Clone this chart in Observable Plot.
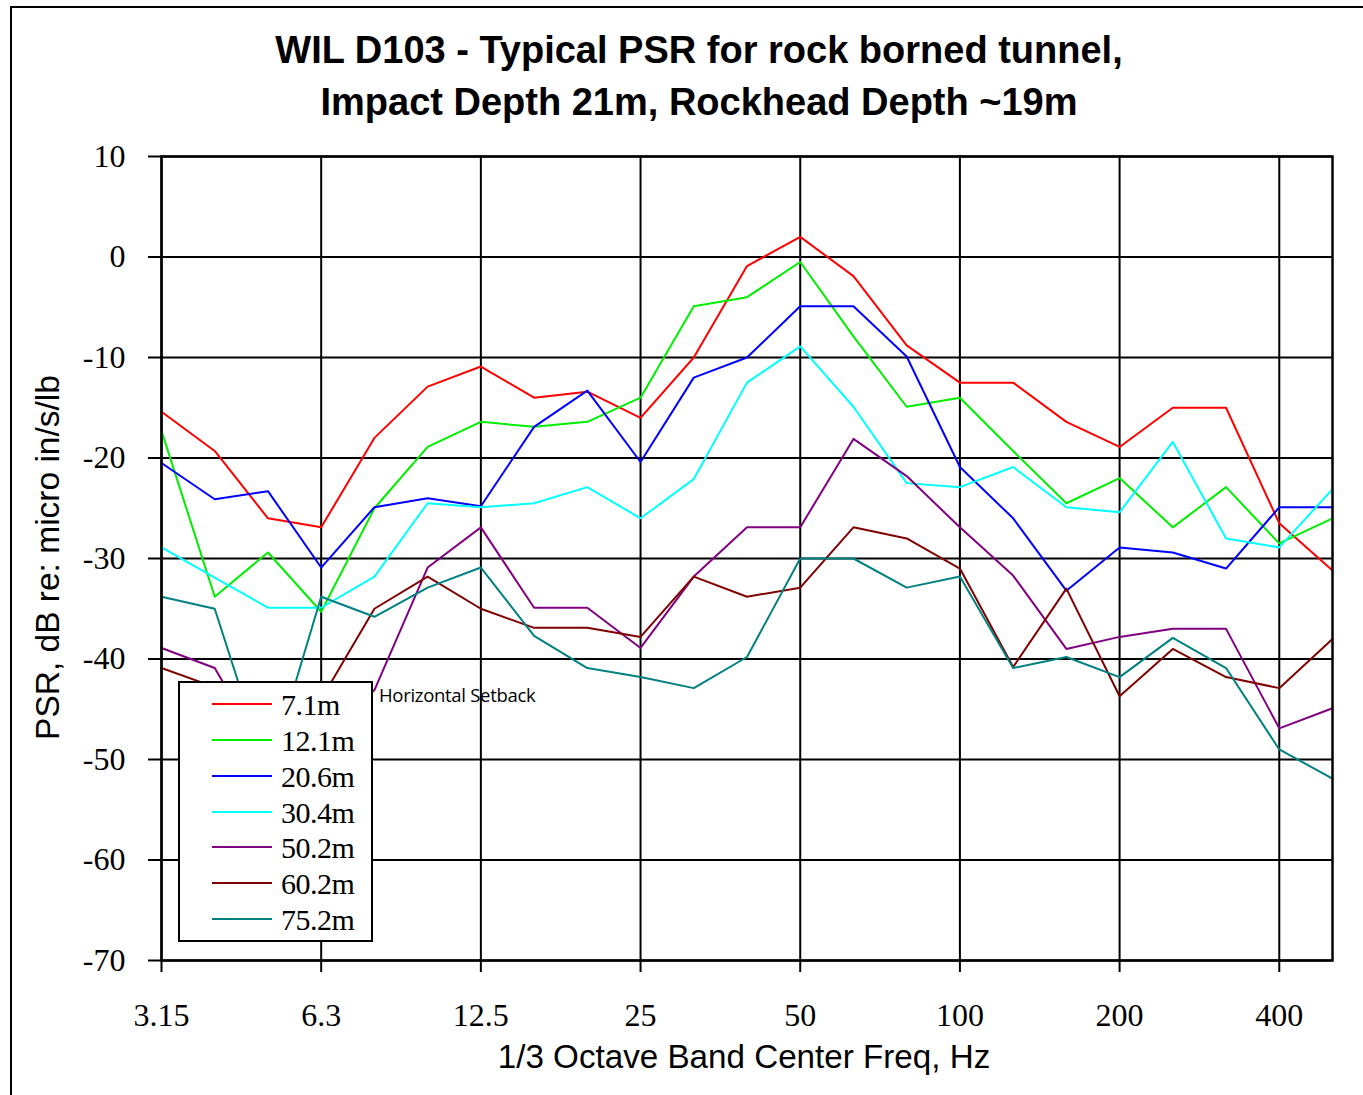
<!DOCTYPE html>
<html>
<head>
<meta charset="utf-8">
<script src="https://cdn.jsdelivr.net/npm/d3@7"></script>
<script src="https://cdn.jsdelivr.net/npm/@observablehq/plot@0.6"></script>
<style>
  body { margin: 0; background: #fff; }
  #wrap { position: relative; width: 1363px; height: 1095px; overflow: hidden; background: #fff; }
  #border { position: absolute; left: 10px; top: 6px; width: 1400px; height: 1200px; border-left: 2px solid #000; border-top: 2px solid #000; }
  #chart { position: absolute; left: 0; top: 0; }
  .title { position: absolute; left: 0; width: 1398px; text-align: center; font: bold 38px "Liberation Sans", Arial, sans-serif; line-height: 38px; white-space: nowrap; }
  #xlabel { position: absolute; left: 344px; width: 800px; top: 1040px; text-align: center; font: 33.2px "Liberation Sans", Arial, sans-serif; line-height: 33px; white-space: nowrap; }
  #ylabel { position: absolute; left: -153px; top: 541px; width: 400px; text-align: center; font: 33.5px "Liberation Sans", Arial, sans-serif; line-height: 33px; transform: rotate(-90deg); white-space: nowrap; }
  #legend { position: absolute; left: 178px; top: 681px; width: 195px; height: 261px; box-sizing: border-box; border: 2px solid #000; background: #fff; }
  .lg-line { position: absolute; left: 32px; width: 60px; height: 2px; }
  .lg-text { position: absolute; left: 101px; font: 30px "Liberation Serif", "Times New Roman", serif; line-height: 30px; white-space: nowrap; letter-spacing: -0.5px; }
  #note { position: absolute; left: 379px; top: 683px; font: 18.5px "Open Sans", sans-serif; line-height: 24px; white-space: nowrap; letter-spacing: -0.3px; }
</style>
</head>
<body>
<div id="wrap">
  <div id="border"></div>
  <div id="chart"></div>
  <div class="title" style="top:31px">WIL D103 - Typical PSR for rock borned tunnel,</div>
  <div class="title" style="top:83px">Impact Depth 21m, Rockhead Depth ~19m</div>
  <div id="ylabel">PSR, dB re: micro in/s/lb</div>
  <div id="xlabel">1/3 Octave Band Center Freq, Hz</div>
  <div id="legend"></div>
  <div id="note">Horizontal Setback</div>
</div>
<script>
// 1/3 octave band centre frequencies (Hz)
const freqs = ["3.15","4","5","6.3","8","10","12.5","16","20","25","31.5","40","50","63","80","100","125","160","200","250","315","400","500"];
const xTickLabels = ["3.15","6.3","12.5","25","50","100","200","400"];
const yTicks = [10, 0, -10, -20, -30, -40, -50, -60, -70];

const setbacks = ["7.1m","12.1m","20.6m","30.4m","50.2m","60.2m","75.2m"];
const colors   = ["#ff0000","#00ee00","#0000ff","#00ffff","#800080","#800000","#008080"];

// PSR, dB re: micro in/s/lb
const psr_7_1  = [-15.4,-19.3,-26,-26.9,-18,-12.9,-10.9,-14,-13.4,-16,-10,-0.9,2,-1.9,-8.8,-12.5,-12.5,-16.4,-18.9,-15,-15,-26.5,-31.2];
const psr_12_1 = [-17.3,-33.8,-29.4,-35.3,-25,-18.9,-16.4,-16.9,-16.4,-14,-4.9,-4,-0.5,-7.9,-14.9,-14,-19.3,-24.5,-22,-26.9,-22.9,-28.5,-26];
const psr_20_6 = [-20.5,-24.1,-23.3,-30.9,-24.9,-24,-24.8,-16.9,-13.3,-20.4,-12,-10,-4.9,-4.9,-9.9,-20.9,-26,-33.2,-28.9,-29.4,-31,-24.9,-24.9];
const psr_30_4 = [-28.9,-31.9,-34.9,-34.9,-31.8,-24.5,-24.9,-24.5,-22.9,-26,-22.1,-12.5,-8.9,-14.9,-22.5,-22.9,-20.9,-24.9,-25.4,-18.4,-28,-28.9,-23.1];
const psr_50_2 = [-38.9,-40.9,-50,-47,-43.1,-30.9,-26.9,-34.9,-34.9,-38.9,-31.8,-26.9,-26.9,-18.1,-21.8,-26.9,-31.7,-39,-37.8,-37,-37,-46.9,-44.9];
const psr_60_2 = [-40.9,-42.8,-44.5,-44,-35,-31.8,-35,-36.9,-36.9,-37.8,-31.8,-33.8,-32.9,-26.9,-28,-31,-40.8,-33,-43.7,-39,-41.8,-42.9,-38];
const psr_75_2 = [-33.8,-35,-51.5,-33.8,-35.8,-32.9,-30.9,-37.7,-40.9,-41.8,-42.9,-39.8,-30,-30,-32.9,-31.8,-40.9,-39.8,-41.8,-37.9,-40.9,-49,-51.9];

const seriesValues = [psr_7_1, psr_12_1, psr_20_6, psr_30_4, psr_50_2, psr_60_2, psr_75_2];

const data = [];
seriesValues.forEach((vals, k) => {
  vals.forEach((v, i) => data.push({freq: freqs[i], psr: v, setback: setbacks[k]}));
});

const chart = Plot.plot({
  width: 1363,
  height: 1095,
  marginLeft: 161,
  marginRight: 31,
  marginTop: 156,
  marginBottom: 135,
  style: {background: "transparent", fontFamily: "'Liberation Serif', 'Times New Roman', serif", color: "#000"},
  x: {type: "point", domain: freqs, padding: 0, round: false, label: null},
  y: {domain: [-70, 10], label: null},
  color: {domain: setbacks, range: colors},
  marks: [
    Plot.gridX(xTickLabels, {stroke: "#000", strokeOpacity: 1, strokeWidth: 2}),
    Plot.gridY(yTicks, {stroke: "#000", strokeOpacity: 1, strokeWidth: 2}),
    Plot.axisX(xTickLabels, {tickSize: 12, tickPadding: 31, fontSize: 32, strokeWidth: 2, label: null}),
    Plot.axisY(yTicks, {tickSize: 13, tickPadding: 23, fontSize: 32, strokeWidth: 2, label: null, tickFormat: d => String(d)}),
    Plot.line(data, {x: "freq", y: "psr", z: "setback", stroke: "setback", strokeWidth: 2}),
    Plot.frame({stroke: "#000", strokeWidth: 2.5})
  ]
});
document.getElementById("chart").appendChild(chart);

// legend
const legend = document.getElementById("legend");
const rowY = [23, 59, 95, 131, 166, 202, 238];
setbacks.forEach((name, k) => {
  const ln = document.createElement("div");
  ln.className = "lg-line";
  ln.style.top = (rowY[k] - 2 - 1) + "px";
  ln.style.background = colors[k];
  legend.appendChild(ln);
  const tx = document.createElement("div");
  tx.className = "lg-text";
  tx.style.top = (rowY[k] - 2 - 14) + "px";
  tx.textContent = name;
  legend.appendChild(tx);
});
</script>
</body>
</html>
